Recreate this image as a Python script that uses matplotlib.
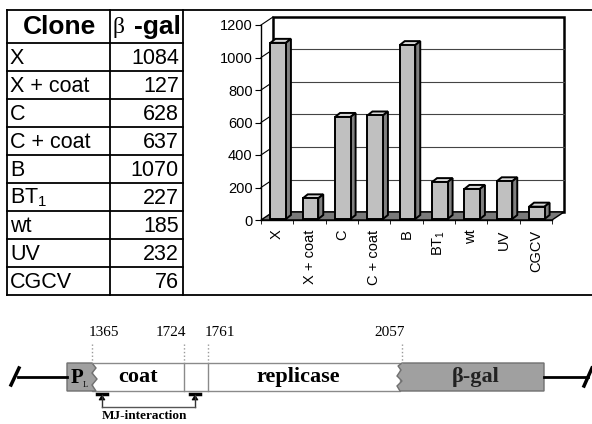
import matplotlib.pyplot as plt
from matplotlib.patches import Polygon, Rectangle

plt.rcParams['font.family'] = ['Liberation Sans', 'DejaVu Sans']
plt.rcParams['mathtext.fontset'] = 'custom'
plt.rcParams['mathtext.rm'] = 'Liberation Sans'
plt.rcParams['mathtext.default'] = 'regular'

#------------------------------------------------------------------------------
# data

clones = ['X', 'X + coat', 'C', 'C + coat', 'B', 'BT$_1$', 'wt', 'UV', 'CGCV']
beta_gal = [1084, 127, 628, 637, 1070, 227, 185, 232, 76]
yticks = [0, 200, 400, 600, 800, 1000, 1200]

site_labels = ['1365', '1724', '1761', '2057']
segments = ['coat', 'replicase', 'β-gal']

#------------------------------------------------------------------------------

W, H = 592, 424
fig = plt.figure(figsize=(W / 100, H / 100), dpi=100)

bg = fig.add_axes([0, 0, 1, 1])
bg.set_xlim(0, W)
bg.set_ylim(H, 0)
bg.axis('off')

# table -----------------------------------------------------------------------
top, head, row, bottom = 10, 43, 28, 295
lw_tab = 1.3
bg.plot([7, W], [top, top], color='black', lw=lw_tab)
bg.plot([7, W], [bottom, bottom], color='black', lw=lw_tab)
for xv in [7, 110, 183]:
    bg.plot([xv, xv], [top, bottom], color='black', lw=lw_tab)
for i in range(len(clones)):
    yy = head + row * i
    bg.plot([7, 183], [yy, yy], color='black', lw=lw_tab)

bg.text(60, 27, 'Clone', fontsize=19, fontweight='bold', ha='center', va='center')
bg.text(112, 27, 'β', fontsize=17, family='Liberation Serif', ha='left', va='center')
bg.text(181, 27, '-gal', fontsize=19, fontweight='bold', ha='right', va='center')

for i, (name, val) in enumerate(zip(clones, beta_gal)):
    yy = head + row * i + row / 2 + 1
    bg.text(10, yy, name, fontsize=15.5, ha='left', va='center')
    bg.text(179, yy, str(val), fontsize=15.5, ha='right', va='center')

# bar chart -------------------------------------------------------------------
x0, x1, y0, y1 = 261, 552, 220, 25
ax = fig.add_axes([x0 / W, 1 - y0 / H, (x1 - x0) / W, (y0 - y1) / H])
ncat = len(clones)
ax.set_xlim(0, ncat)
ax.set_ylim(0, 1200)
px = ncat / (x1 - x0)
py = 1200 / (y0 - y1)
DX, DY = 12 * px, 8 * py

ax.add_patch(Rectangle((DX, DY), ncat, 1200, facecolor='white',
                       edgecolor='black', lw=1.8, clip_on=False, zorder=0))
for v in yticks[1:]:
    ax.plot([0, DX], [v, v + DY], color='black', lw=0.8, clip_on=False, zorder=1)
    if v < 1200:
        ax.plot([DX, ncat + DX], [v + DY, v + DY], color='#444444', lw=0.8,
                clip_on=False, zorder=1)
ax.add_patch(Polygon([(0, 0), (ncat, 0), (ncat + DX, DY), (DX, DY)],
                     closed=True, facecolor='#7a7a7a', edgecolor='black',
                     lw=1, clip_on=False, zorder=2))

bw = 0.48
sx, sy = 1 * px, 1 * py
bdx, bdy = 5 * px, 4 * py
lefts = [i + (1 - bw) / 2 + sx for i in range(ncat)]
ax.bar(lefts, beta_gal, width=bw, bottom=sy, align='edge', color='#c0c0c0',
       edgecolor='black', lw=1.4, zorder=4, clip_on=False)
for l, v in zip(lefts, beta_gal):
    r = l + bw
    t = v + sy
    ax.add_patch(Polygon([(l, t), (l + bdx, t + bdy), (r + bdx, t + bdy), (r, t)],
                         closed=True, facecolor='#d8d8d8', edgecolor='black',
                         lw=1.4, zorder=3, clip_on=False))
    ax.add_patch(Polygon([(r, sy), (r + bdx, sy + bdy), (r + bdx, t + bdy), (r, t)],
                         closed=True, facecolor='#808080', edgecolor='black',
                         lw=1.4, zorder=3, clip_on=False))

for s in ['top', 'right']:
    ax.spines[s].set_visible(False)
ax.spines['left'].set_linewidth(1)
ax.spines['bottom'].set_linewidth(1)
ax.set_facecolor('none')
ax.set_yticks(yticks)
ax.tick_params(axis='y', length=4, pad=2, labelsize=10.5)
ax.set_xticks([i + 0.5 for i in range(ncat)])
ax.set_xticklabels(clones, rotation=90, fontsize=10.5)
ax.set_xticks(range(ncat + 1), minor=True)
ax.tick_params(axis='x', which='major', length=0, pad=7)
ax.tick_params(axis='x', which='minor', length=3)

# construct diagram -----------------------------------------------------------
yc, bt, bb = 377, 363, 391
gray_fill, gray_edge, box_edge = '#a0a0a0', '#707070', '#8a8a8a'

bg.plot([18, 67], [yc, yc], color='black', lw=2)
bg.plot([11, 19], [385, 368], color='black', lw=2.5)
bg.plot([544, 588], [yc, yc], color='black', lw=2)
bg.plot([584, 592], [386, 368], color='black', lw=2.5)

bg.add_patch(Rectangle((92, bt), 308, bb - bt, facecolor='white',
                       edgecolor=box_edge, lw=1))
for xv in [184, 208]:
    bg.plot([xv, xv], [bt, bb], color=box_edge, lw=1)

bg.add_patch(Polygon([(67, bt), (92, bt), (96, 368), (92, 373), (97, 379),
                      (92, 385), (96, bb), (67, bb)],
                     closed=True, facecolor=gray_fill, edgecolor=gray_edge, lw=1))
bg.add_patch(Polygon([(402, bt), (544, bt), (544, bb), (400, bb), (397, 386),
                      (402, 381), (397, 376), (401, 370), (398, 366)],
                     closed=True, facecolor=gray_fill, edgecolor=gray_edge, lw=1))

serif = 'Liberation Serif'
bg.text(71, yc + 1, 'P', family=serif, fontweight='bold', fontsize=15,
        ha='left', va='center')
bg.text(83, 385, 'L', family=serif, fontsize=6, ha='left', va='center')
bg.text(138, yc, segments[0], family=serif, fontweight='bold', fontsize=16,
        ha='center', va='center')
bg.text(298, yc, segments[1], family=serif, fontweight='bold', fontsize=16,
        ha='center', va='center')
bg.text(476, yc, segments[2], family=serif, fontweight='bold', fontsize=16,
        ha='center', va='center', color='#222222')

site_x = [92, 184, 208, 402]
site_ha = ['left', 'right', 'left', 'center']
site_tx = [89, 186, 205, 390]
for lab, xv, ha, tx in zip(site_labels, site_x, site_ha, site_tx):
    bg.plot([xv, xv], [344, bt], color='#999999', lw=1, ls=':')
    bg.text(tx, 333, lab, family=serif, fontsize=11, ha=ha, va='center')

for xv in [102, 195]:
    bg.plot([xv - 5, xv + 5], [394, 394], color='black', lw=2.5)
    bg.add_patch(Polygon([(xv, 395), (xv - 3, 400), (xv + 3, 400)],
                         closed=True, facecolor='black', edgecolor='black', lw=0.5))
    bg.plot([xv, xv], [395, 407], color='#333333', lw=1)
bg.plot([102, 195], [407, 407], color='#555555', lw=1)
bg.text(144, 416, 'MJ-interaction', family=serif, fontweight='bold',
        fontsize=9.5, ha='center', va='center')

fig.savefig('out.png', dpi=100)
